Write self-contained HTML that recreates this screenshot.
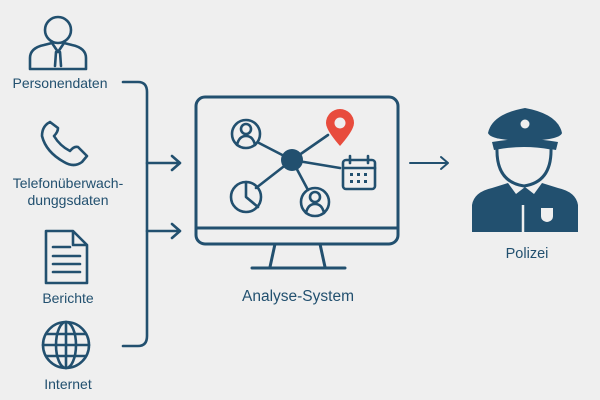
<!DOCTYPE html>
<html><head><meta charset="utf-8"><style>
html,body{margin:0;padding:0;background:#efefef}
svg{display:block}
text{font-family:"Liberation Sans",sans-serif;fill:#22506f}
</style></head><body>
<svg width="600" height="400" viewBox="0 0 600 400" xmlns="http://www.w3.org/2000/svg">
<rect width="600" height="400" fill="#efefef"/>
<g fill="none" stroke="#22506f" stroke-width="2.6" stroke-linecap="round" stroke-linejoin="round">
<circle cx="58" cy="30" r="13"/>
<path d="M30 69 V58 Q30 48 44 45 L52 43 L58 52 L64 43 L72 45 Q86 48 86 58 V69 Z"/>
<path d="M56 52 L55 66 M60 52 L61 66"/>
<path d="M50 122 Q42 126 42 136 Q46 152 64 162 Q74 168 82 162 L87 156 L78 147 Q74 146 70 151 Q60 146 54 136 Q58 132 58 128 Z"/>
<path d="M46 231 H73 L87 245 V283 H46 Z M73 231 V245 H87"/>
<path d="M53 247 H70 M53 256 H80 M53 264 H80 M53 272 H80"/>
<circle cx="66" cy="345" r="23"/>
<ellipse cx="66" cy="345" rx="10" ry="23"/>
<path d="M66 322 V368 M43 345 H89 M46 334 H86 M46 356 H86"/>
<path d="M123 82 H138 Q147 82 147 92 V336 Q147 346 138 346 H123"/>
<path d="M147 163 H180 M172 156 L180 163 L172 170"/>
<path d="M147 231 H180 M172 224 L180 231 L172 238"/>
<rect x="196" y="97" width="202" height="147" rx="9" stroke-width="3"/>
<path d="M196 228 H398" stroke-width="3"/>
<path d="M275 244 L270 267 M320 244 L325 267 M252 268 H345" stroke-width="3"/>
<path d="M292 160 L259 143 M292 160 L256 188 M292 160 L308 190 M292 160 L328 135 M292 160 L340 168"/>
<circle cx="246" cy="134" r="14"/>
<circle cx="246" cy="129" r="5"/>
<path d="M237 145 Q239 136 246 136 Q253 136 255 145"/>
<circle cx="315" cy="202" r="14"/>
<circle cx="315" cy="197" r="5"/>
<path d="M306 213 Q308 204 315 204 Q322 204 324 213"/>
<circle cx="246" cy="197" r="15"/>
<path d="M246 182 V197 L258 207"/>
<rect x="343" y="160" width="32" height="29" rx="3"/>
<path d="M343 168 H375 M350 156 V163 M368 156 V163"/>
<path d="M410 163 H448 M441 157 L448 163 L441 169" stroke-width="2"/>
</g>
<g fill="#22506f">
<circle cx="292" cy="160" r="11"/>
<rect x="350" y="173" width="3" height="3"/><rect x="357" y="173" width="3" height="3"/><rect x="364" y="173" width="3" height="3"/>
<rect x="350" y="180" width="3" height="3"/><rect x="357" y="180" width="3" height="3"/><rect x="364" y="180" width="3" height="3"/>
<path d="M488 133 Q492 114 525 108 Q558 114 562 133 Q560 140 525 141 Q490 140 488 133 Z"/>
<path d="M492 142 Q525 136 558 142 L556 150 Q525 144 494 150 Z"/>
<path d="M472 232 V205 Q474 192 492 188 L508 183 L516 194 L525 187 L534 194 L542 183 L558 188 Q576 192 578 205 V232 Z"/>
</g>
<circle cx="525" cy="124" r="4.5" fill="#efefef"/>
<path d="M497 148 Q496 182 524 186 Q552 182 551 148 Q524 143 497 148 Z" fill="#efefef" stroke="#22506f" stroke-width="3"/>
<path d="M523 205 V232" stroke="#efefef" stroke-width="2.5"/>
<path d="M541 208 H553 V216 Q553 221 547 222 Q541 221 541 216 Z" fill="#efefef"/>
<path d="M340 146 Q326 130 326 123 A14 14 0 0 1 354 123 Q354 130 340 146 Z" fill="#e84c3d"/>
<circle cx="340" cy="123" r="5.5" fill="#efefef"/>
<text x="60" y="88" font-size="14" text-anchor="middle">Personendaten</text>
<text x="68" y="188" font-size="14" text-anchor="middle">Telefonüberwach-</text>
<text x="68" y="205" font-size="14" text-anchor="middle">dunggsdaten</text>
<text x="68" y="303" font-size="14" text-anchor="middle">Berichte</text>
<text x="68" y="389" font-size="14" text-anchor="middle">Internet</text>
<text x="298" y="301" font-size="15.5" text-anchor="middle">Analyse-System</text>
<text x="527" y="258" font-size="14.5" text-anchor="middle">Polizei</text>
</svg>
</body></html>
